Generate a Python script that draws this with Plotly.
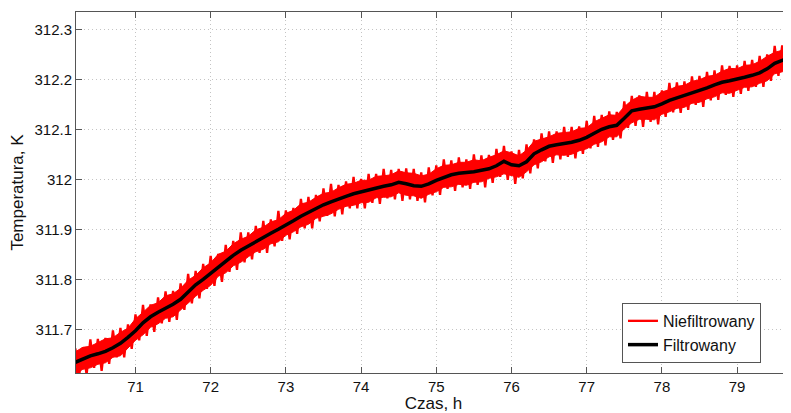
import plotly.graph_objects as go

# ---- filtered curve (read every 0.1 h) ----
time_h = [70.2, 70.3, 70.4, 70.5, 70.6, 70.7, 70.8, 70.9,
          71.0, 71.1, 71.2, 71.3, 71.4, 71.5, 71.6, 71.7, 71.8, 71.9,
          72.0, 72.1, 72.2, 72.3, 72.4, 72.5, 72.6, 72.7, 72.8, 72.9,
          73.0, 73.1, 73.2, 73.3, 73.4, 73.5, 73.6, 73.7, 73.8, 73.9,
          74.0, 74.1, 74.2, 74.3, 74.4, 74.5, 74.6, 74.7, 74.8, 74.9,
          75.0, 75.1, 75.2, 75.3, 75.4, 75.5, 75.6, 75.7, 75.8, 75.9,
          76.0, 76.1, 76.2, 76.3, 76.4, 76.5, 76.6, 76.7, 76.8, 76.9,
          77.0, 77.1, 77.2, 77.3, 77.4, 77.5, 77.6, 77.7, 77.8, 77.9,
          78.0, 78.1, 78.2, 78.3, 78.4, 78.5, 78.6, 78.7, 78.8, 78.9,
          79.0, 79.1, 79.2, 79.3, 79.4, 79.5, 79.6, 79.7]

filtered = [311.634, 311.640, 311.647, 311.651, 311.656, 311.663, 311.672, 311.684,
            311.697, 311.713, 311.725, 311.734, 311.742, 311.750, 311.760, 311.774, 311.789, 311.800,
            311.812, 311.825, 311.836, 311.848, 311.858, 311.867, 311.875, 311.883, 311.892, 311.900,
            311.908, 311.917, 311.926, 311.934, 311.942, 311.949, 311.955, 311.961, 311.966, 311.971,
            311.975, 311.979, 311.982, 311.986, 311.989, 311.994, 311.991, 311.987, 311.986, 311.991,
            311.998, 312.004, 312.009, 312.012, 312.013, 312.015, 312.018, 312.021, 312.027, 312.036,
            312.029, 312.027, 312.035, 312.051, 312.059, 312.066, 312.069, 312.071, 312.074, 312.078,
            312.084, 312.092, 312.100, 312.105, 312.108, 312.122, 312.137, 312.140, 312.142, 312.145,
            312.151, 312.158, 312.163, 312.168, 312.172, 312.177, 312.183, 312.189, 312.194, 312.197,
            312.200, 312.204, 312.208, 312.213, 312.221, 312.232, 312.238, 312.242]

# dense core of the unfiltered signal: spread above / below the filtered curve, K
core_up = [0.021, 0.024, 0.019, 0.023, 0.025, 0.020, 0.022, 0.018, 0.024, 0.021,
           0.023, 0.019, 0.025, 0.021, 0.022, 0.024, 0.019, 0.023, 0.021, 0.025,
           0.020, 0.023, 0.022, 0.019, 0.024, 0.021, 0.023, 0.019, 0.024, 0.021,
           0.025, 0.020, 0.022, 0.023, 0.019, 0.022, 0.024, 0.021, 0.023, 0.019,
           0.024, 0.021, 0.020, 0.023, 0.022, 0.025, 0.021, 0.019, 0.023, 0.024,
           0.020, 0.022, 0.021, 0.024, 0.019, 0.023, 0.022, 0.021, 0.024, 0.020,
           0.023, 0.025, 0.021, 0.019, 0.023, 0.022, 0.021, 0.024, 0.019, 0.023,
           0.022, 0.024, 0.020, 0.023, 0.021, 0.026, 0.022, 0.019, 0.024, 0.021,
           0.023, 0.020, 0.024, 0.022, 0.023, 0.019, 0.022, 0.025, 0.021, 0.024,
           0.021, 0.023, 0.025, 0.022, 0.020, 0.023]
core_dn = [0.023, 0.020, 0.024, 0.021, 0.023, 0.019, 0.025, 0.022, 0.019, 0.024,
           0.021, 0.023, 0.020, 0.025, 0.021, 0.020, 0.023, 0.022, 0.024, 0.019,
           0.023, 0.021, 0.024, 0.022, 0.020, 0.023, 0.021, 0.025, 0.020, 0.022,
           0.021, 0.024, 0.020, 0.023, 0.024, 0.021, 0.020, 0.023, 0.022, 0.025,
           0.019, 0.022, 0.024, 0.021, 0.023, 0.020, 0.024, 0.021, 0.023, 0.020,
           0.024, 0.022, 0.025, 0.021, 0.023, 0.019, 0.022, 0.025, 0.021, 0.023,
           0.020, 0.022, 0.024, 0.021, 0.020, 0.023, 0.024, 0.021, 0.023, 0.022,
           0.025, 0.020, 0.023, 0.021, 0.024, 0.020, 0.022, 0.026, 0.021, 0.023,
           0.021, 0.024, 0.020, 0.023, 0.022, 0.024, 0.021, 0.025, 0.022, 0.020,
           0.023, 0.021, 0.024, 0.021, 0.023, 0.022]

# ---- unfiltered signal, read every 0.05 h (spiky samples) ----
raw_time_h = [70.20, 70.25, 70.30, 70.35, 70.40, 70.45, 70.50, 70.55, 70.60, 70.65,
              70.70, 70.75, 70.80, 70.85, 70.90, 70.95, 71.00, 71.05, 71.10, 71.15,
              71.20, 71.25, 71.30, 71.35, 71.40, 71.45, 71.50, 71.55, 71.60, 71.65,
              71.70, 71.75, 71.80, 71.85, 71.90, 71.95, 72.00, 72.05, 72.10, 72.15,
              72.20, 72.25, 72.30, 72.35, 72.40, 72.45, 72.50, 72.55, 72.60, 72.65,
              72.70, 72.75, 72.80, 72.85, 72.90, 72.95, 73.00, 73.05, 73.10, 73.15,
              73.20, 73.25, 73.30, 73.35, 73.40, 73.45, 73.50, 73.55, 73.60, 73.65,
              73.70, 73.75, 73.80, 73.85, 73.90, 73.95, 74.00, 74.05, 74.10, 74.15,
              74.20, 74.25, 74.30, 74.35, 74.40, 74.45, 74.50, 74.55, 74.60, 74.65,
              74.70, 74.75, 74.80, 74.85, 74.90, 74.95, 75.00, 75.05, 75.10, 75.15,
              75.20, 75.25, 75.30, 75.35, 75.40, 75.45, 75.50, 75.55, 75.60, 75.65,
              75.70, 75.75, 75.80, 75.85, 75.90, 75.95, 76.00, 76.05, 76.10, 76.15,
              76.20, 76.25, 76.30, 76.35, 76.40, 76.45, 76.50, 76.55, 76.60, 76.65,
              76.70, 76.75, 76.80, 76.85, 76.90, 76.95, 77.00, 77.05, 77.10, 77.15,
              77.20, 77.25, 77.30, 77.35, 77.40, 77.45, 77.50, 77.55, 77.60, 77.65,
              77.70, 77.75, 77.80, 77.85, 77.90, 77.95, 78.00, 78.05, 78.10, 78.15,
              78.20, 78.25, 78.30, 78.35, 78.40, 78.45, 78.50, 78.55, 78.60, 78.65,
              78.70, 78.75, 78.80, 78.85, 78.90, 78.95, 79.00, 79.05, 79.10, 79.15,
              79.20, 79.25, 79.30, 79.35, 79.40, 79.45, 79.50, 79.55, 79.60, 79.65,
              79.70]
raw_temp = [311.662, 311.606, 311.664, 311.609, 311.680, 311.623, 311.681, 311.617, 311.683, 311.631,
            311.698, 311.644, 311.703, 311.644, 311.710, 311.661, 311.730, 311.678, 311.749, 311.687,
            311.750, 311.695, 311.764, 311.712, 311.776, 311.715, 311.777, 311.719, 311.792, 311.739,
            311.811, 311.752, 311.817, 311.762, 311.831, 311.781, 311.847, 311.787, 311.851, 311.795,
            311.869, 311.815, 311.877, 311.819, 311.894, 311.834, 311.894, 311.840, 311.907, 311.853,
            311.917, 311.853, 311.920, 311.866, 311.937, 311.877, 311.938, 311.880, 311.943, 311.891,
            311.961, 311.902, 311.965, 311.902, 311.969, 311.916, 311.982, 311.927, 311.991, 311.926,
            311.989, 311.930, 311.996, 311.942, 312.005, 311.942, 312.001, 311.942, 312.011, 311.953,
            312.011, 311.951, 312.021, 311.962, 312.019, 311.960, 312.021, 311.957, 312.022, 311.960,
            312.021, 311.957, 312.014, 311.954, 312.024, 311.968, 312.028, 311.969, 312.040, 311.981,
            312.038, 311.977, 312.044, 311.984, 312.040, 311.981, 312.050, 311.989, 312.048, 311.984,
            312.049, 311.993, 312.061, 312.005, 312.067, 311.999, 312.056, 311.991, 312.059, 312.002,
            312.070, 312.012, 312.080, 312.022, 312.092, 312.036, 312.096, 312.033, 312.096, 312.040,
            312.105, 312.045, 312.105, 312.042, 312.106, 312.051, 312.117, 312.062, 312.127, 312.065,
            312.129, 312.068, 312.136, 312.079, 312.135, 312.082, 312.156, 312.103, 312.167, 312.107,
            312.168, 312.105, 312.175, 312.115, 312.175, 312.110, 312.178, 312.125, 312.193, 312.134,
            312.194, 312.133, 312.196, 312.139, 312.206, 312.149, 312.207, 312.145, 312.215, 312.158,
            312.218, 312.159, 312.228, 312.169, 312.227, 312.165, 312.228, 312.171, 312.237, 312.177,
            312.239, 312.185, 312.247, 312.185, 312.250, 312.197, 312.267, 312.207, 312.268, 312.207,
            312.269]

x_ticks = [71, 72, 73, 74, 75, 76, 77, 78, 79]
y_ticks = [311.7, 311.8, 311.9, 312.0, 312.1, 312.2, 312.3]
y_tick_text = ["311.7", "311.8", "311.9", "312", "312.1", "312.2", "312.3"]

core_hi = [f + u for f, u in zip(filtered, core_up)]
core_lo = [f - d for f, d in zip(filtered, core_dn)]

RED = "#ff0000"
FONT = "Liberation Sans, Arial, Helvetica, sans-serif"

fig = go.Figure()
fig.add_trace(go.Scatter(x=time_h, y=core_lo, mode="lines",
                         line=dict(color=RED, width=1),
                         showlegend=False, hoverinfo="skip"))
fig.add_trace(go.Scatter(x=time_h, y=core_hi, mode="lines", fill="tonexty",
                         fillcolor=RED, line=dict(color=RED, width=1),
                         showlegend=False, hoverinfo="skip"))
fig.add_trace(go.Scatter(x=raw_time_h, y=raw_temp, mode="lines",
                         line=dict(color=RED, width=2.3), name="Niefiltrowany"))
fig.add_trace(go.Scatter(x=time_h, y=filtered, mode="lines",
                         line=dict(color="black", width=3.5), name="Filtrowany"))

axis_common = dict(showline=True, linecolor="#555555", linewidth=1, mirror="ticks",
                   ticks="inside", ticklen=6, tickcolor="#555555",
                   showgrid=True, gridcolor="#c4c4c4", griddash="1px,3px", gridwidth=1,
                   zeroline=False, tickfont=dict(family=FONT, size=15, color="#111111"))

# the page adds an 8 px body margin, so the figure is 8 px smaller on each axis
fig.update_layout(
    width=783, height=405,
    margin=dict(l=68, r=0, t=4, b=40),
    paper_bgcolor="white", plot_bgcolor="white",
    font=dict(family=FONT, color="#111111"),
    xaxis=dict(range=[70.209, 79.717], tickvals=x_ticks,
               title=dict(text="Czas, h", font=dict(family=FONT, size=17), standoff=0),
               **axis_common),
    yaxis=dict(range=[311.6126, 312.3346], tickvals=y_ticks, ticktext=y_tick_text,
               title=dict(text="Temperatura, K", font=dict(family=FONT, size=17), standoff=8),
               **axis_common),
    legend=dict(x=0.7636, y=0.111, xanchor="left", yanchor="middle",
                bgcolor="white", bordercolor="#555555", borderwidth=1,
                font=dict(family=FONT, size=16, color="#111111"),
                traceorder="normal", tracegroupgap=0, itemwidth=30),
    showlegend=True,
)

fig.write_html("out.html")
